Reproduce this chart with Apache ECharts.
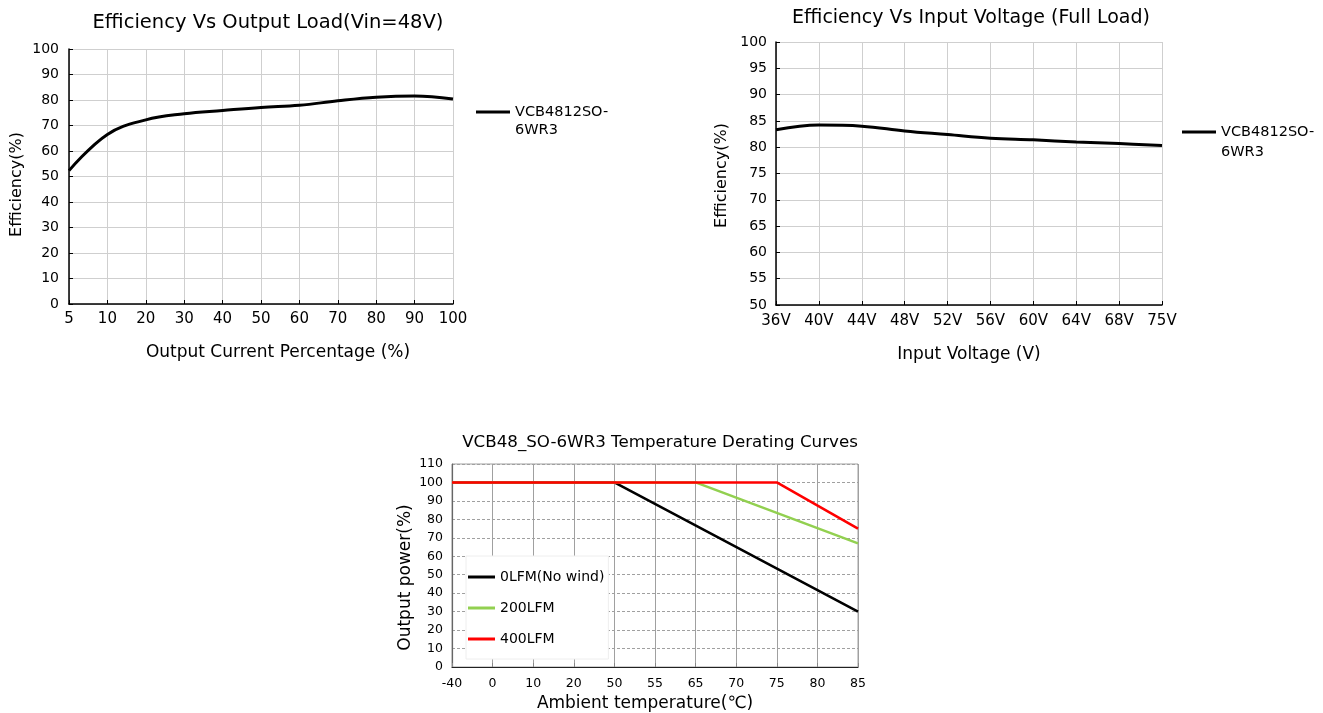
<!DOCTYPE html>
<html>
<head>
<meta charset="utf-8">
<script src="https://cdn.jsdelivr.net/npm/echarts@6/dist/echarts.min.js"></script>
<style>
html,body{margin:0;padding:0;background:#fff;}
#c{width:1323px;height:713px;}
</style>
</head>
<body>
<div id="c"></div>
<script>
// ---- Data ----
const loadCategories = ['5','10','20','30','40','50','60','70','80','90','100'];
const loadEfficiency = [52.3, 66.5, 72.2, 74.6, 75.9, 77.1, 77.9, 79.7, 81.1, 81.6, 80.4];

const vinCategories = ['36V','40V','44V','48V','52V','56V','60V','64V','68V','75V'];
const vinEfficiency = [83.3, 84.2, 84.0, 83.1, 82.4, 81.7, 81.4, 81.0, 80.7, 80.3];

const tempCategories = ['-40','0','10','20','50','55','65','70','75','80','85'];
const derate0LFM   = [['-40',100],['50',100],['85',30]];
const derate200LFM = [['-40',100],['65',100],['85',67]];
const derate400LFM = [['-40',100],['75',100],['85',75]];

const modelName = 'VCB4812SO-6WR3';
const FONT = 'DejaVu Sans';

const chart = echarts.init(document.getElementById('c'), null, {renderer:'canvas'});

const baseText = {fontFamily: FONT, color: '#000'};
// wrap legend name after the hyphen; a leading blank line keeps the first line level with the icon
const wrapName = n => ' \n' + n.replace('-', '-\n');

chart.setOption({
  backgroundColor: '#fff',
  animation: false,
  textStyle: {fontFamily: FONT},
  title: [
    {text: 'Efficiency Vs Output Load(Vin=48V)', left: 263, top: 8, textAlign: 'center',
     textStyle: Object.assign({fontSize: 19.5, fontWeight: 'normal'}, baseText)},
    {text: 'Efficiency Vs Input Voltage (Full Load)', left: 966, top: 4, textAlign: 'center',
     textStyle: Object.assign({fontSize: 19, fontWeight: 'normal'}, baseText)},
    {text: 'VCB48_SO-6WR3 Temperature Derating Curves', left: 655, top: 429, textAlign: 'center',
     textStyle: Object.assign({fontSize: 16.7, fontWeight: 'normal'}, baseText)}
  ],
  legend: [
    {data: [modelName], left: 471, top: 80, itemWidth: 34, itemHeight: 3, icon: 'rect',
     formatter: wrapName,
     textStyle: Object.assign({fontSize: 14.5, lineHeight: 18}, baseText)},
    {data: [modelName], left: 1177, top: 97, itemWidth: 34, itemHeight: 3, icon: 'rect',
     formatter: wrapName,
     textStyle: Object.assign({fontSize: 14.5, lineHeight: 20}, baseText)},
    {data: ['0LFM(No wind)','200LFM','400LFM'], orient: 'vertical', left: 466, top: 556,
     itemWidth: 27, itemHeight: 3, icon: 'rect', itemGap: 17,
     padding: [14, 4, 13, 2], backgroundColor: '#fff', borderColor: '#eeeeee', borderWidth: 1,
     textStyle: Object.assign({fontSize: 14, lineHeight: 14}, baseText)}
  ],
  grid: [
    {left: 69, top: 49, width: 384, height: 255, containLabel: false},
    {left: 776, top: 42, width: 386, height: 263, containLabel: false},
    {left: 452, top: 464, width: 406, height: 203, containLabel: false,
     show: true, borderColor: '#a0a0a0', borderWidth: 1, backgroundColor: 'transparent'}
  ],
  xAxis: [
    {gridIndex: 0, type: 'category', data: loadCategories, boundaryGap: false,
     axisLine: {lineStyle: {color: '#000', width: 1.5}},
     axisTick: {inside: true, length: 4, lineStyle: {color: '#000'}},
     axisLabel: Object.assign({fontSize: 15, margin: 8, interval: 0}, baseText),
     splitLine: {show: true, interval: 0, lineStyle: {color: '#cfcfcf', width: 1}},
     name: 'Output Current Percentage (%)', nameLocation: 'middle', nameGap: 40,
     nameTextStyle: Object.assign({fontSize: 17, padding: [0,0,0,34]}, baseText)},
    {gridIndex: 1, type: 'category', data: vinCategories, boundaryGap: false,
     axisLine: {lineStyle: {color: '#000', width: 1.5}},
     axisTick: {inside: true, length: 4, lineStyle: {color: '#000'}},
     axisLabel: Object.assign({fontSize: 15, margin: 9, interval: 0}, baseText),
     splitLine: {show: true, interval: 0, lineStyle: {color: '#cfcfcf', width: 1}},
     name: 'Input Voltage (V)', nameLocation: 'middle', nameGap: 41,
     nameTextStyle: Object.assign({fontSize: 17}, baseText)},
    {gridIndex: 2, type: 'category', data: tempCategories, boundaryGap: false,
     axisLine: {lineStyle: {color: '#222', width: 1.2}},
     axisTick: {inside: true, length: 4, lineStyle: {color: '#888'}},
     axisLabel: Object.assign({fontSize: 12.5, margin: 10, interval: 0}, baseText),
     splitLine: {show: true, interval: 0, lineStyle: {color: '#a0a0a0', width: 1}},
     name: 'Ambient temperature(℃)', nameLocation: 'middle', nameGap: 28,
     nameTextStyle: Object.assign({fontSize: 17, padding: [0,20,0,0]}, baseText)}
  ],
  yAxis: [
    {gridIndex: 0, type: 'value', min: 0, max: 100, interval: 10,
     axisLine: {show: true, lineStyle: {color: '#000', width: 1.5}},
     axisTick: {show: true, inside: true, length: 4, lineStyle: {color: '#000'}},
     axisLabel: Object.assign({fontSize: 14, margin: 10}, baseText),
     splitLine: {show: true, lineStyle: {color: '#cfcfcf', width: 1}},
     name: 'Efficiency(%)', nameLocation: 'middle', nameGap: 44, nameRotate: 90,
     nameTextStyle: Object.assign({fontSize: 16, padding: [0,16,0,0]}, baseText)},
    {gridIndex: 1, type: 'value', min: 50, max: 100, interval: 5,
     axisLine: {show: true, lineStyle: {color: '#000', width: 1.5}},
     axisTick: {show: true, inside: true, length: 4, lineStyle: {color: '#000'}},
     axisLabel: Object.assign({fontSize: 14, margin: 9}, baseText),
     splitLine: {show: true, lineStyle: {color: '#cfcfcf', width: 1}},
     name: 'Efficiency(%)', nameLocation: 'middle', nameGap: 46, nameRotate: 90,
     nameTextStyle: Object.assign({fontSize: 16, padding: [0,4,0,0]}, baseText)},
    {gridIndex: 2, type: 'value', min: 0, max: 110, interval: 10,
     axisLine: {show: true, lineStyle: {color: '#666', width: 1.2}},
     axisTick: {show: false},
     axisLabel: Object.assign({fontSize: 12.5, margin: 9}, baseText),
     splitLine: {show: true, lineStyle: {color: '#a0a0a0', width: 1, type: [3,2]}},
     name: 'Output power(%)', nameLocation: 'middle', nameGap: 38, nameRotate: 90,
     nameTextStyle: Object.assign({fontSize: 17, padding: [0,24,0,0]}, baseText)}
  ],
  series: [
    {name: modelName, type: 'line', xAxisIndex: 0, yAxisIndex: 0, data: loadEfficiency,
     smooth: 0.4, symbol: 'none', lineStyle: {color: '#000', width: 3}, itemStyle: {color: '#000'}},
    {name: modelName, type: 'line', xAxisIndex: 1, yAxisIndex: 1, data: vinEfficiency,
     smooth: 0.4, symbol: 'none', lineStyle: {color: '#000', width: 3}, itemStyle: {color: '#000'}},
    {name: '0LFM(No wind)', type: 'line', xAxisIndex: 2, yAxisIndex: 2, data: derate0LFM,
     symbol: 'none', lineStyle: {color: '#000', width: 2.5}, itemStyle: {color: '#000'}},
    {name: '200LFM', type: 'line', xAxisIndex: 2, yAxisIndex: 2, data: derate200LFM,
     symbol: 'none', lineStyle: {color: '#92d050', width: 2.5}, itemStyle: {color: '#92d050'}},
    {name: '400LFM', type: 'line', xAxisIndex: 2, yAxisIndex: 2, data: derate400LFM,
     symbol: 'none', lineStyle: {color: '#ff0000', width: 2.5}, itemStyle: {color: '#ff0000'}}
  ]
});
</script>
</body>
</html>
